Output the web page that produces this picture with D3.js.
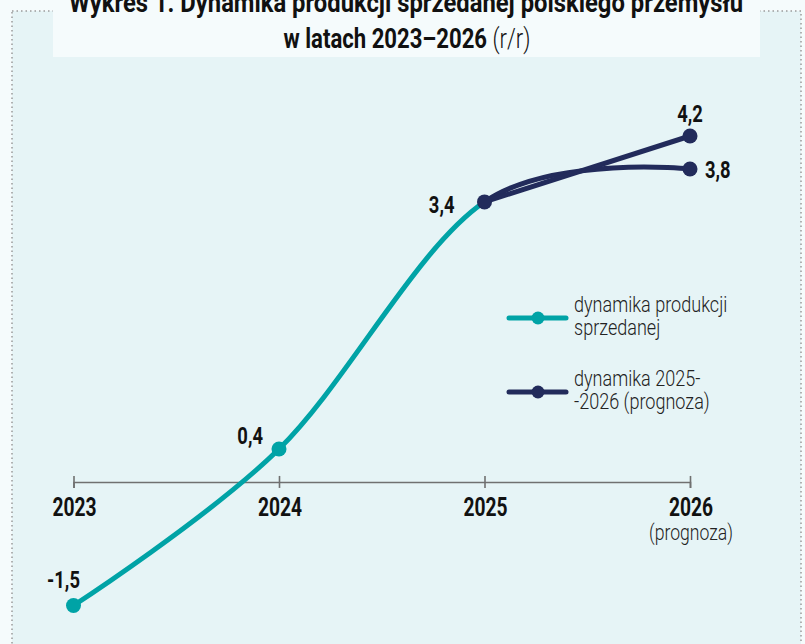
<!DOCTYPE html>
<html>
<head>
<meta charset="utf-8">
<script src="https://cdn.jsdelivr.net/npm/d3@7"></script>
<style>
  html, body { margin: 0; padding: 0; background: #f5fbfc; }
  svg { display: block; }
  text { font-family: Roboto, "Noto Sans", sans-serif; }
</style>
</head>
<body>
<div id="chart"></div>
<script>
// ---- data ----
const years = [2023, 2024, 2025, 2026];
const yearLabels = ["2023", "2024", "2025", "2026"];
const salesValues = [-1.5, 0.4, 3.4, 3.8];       // dynamika produkcji sprzedanej (smoothed series)
const forecastYears = [2025, 2026];
const forecastValues = [3.4, 4.2];               // dynamika 2025-2026 (prognoza), straight
const valueLabels = ["-1,5", "0,4", "3,4", "3,8"];
const forecastLabel = "4,2";
const titleLine1 = "Wykres 1. Dynamika produkcji sprzedanej polskiego przemysłu";
const titleLine2a = "w latach 2023–2026 ";
const titleLine2b = "(r/r)";
const legendItems = [
  ["dynamika produkcji", "sprzedanej"],
  ["dynamika 2025-", "-2026 (prognoza)"]
];
const subLabel2026 = "(prognoza)";

const W = 805, H = 644;
const teal = "#00a3a6", navy = "#222b5b";
const SX = 0.74; // horizontal condensing of the typeface

const svg = d3.select("#chart").append("svg").attr("width", W).attr("height", H);

function txt(str, xx, yy, o) {
  const g = svg.append("g").attr("transform", `translate(${xx},${yy}) scale(${o.sx || SX},1)`);
  const t = g.append("text").attr("x", 0).attr("y", 0)
    .attr("text-anchor", o.anchor || "start")
    .attr("font-size", o.size).attr("font-weight", o.weight || "normal")
    .attr("fill", o.fill || "#111");
  if (str !== null) t.text(str);
  return t;
}

// panel background + dotted border
svg.append("rect").attr("x", 12).attr("y", 11).attr("width", 789).attr("height", 650)
  .attr("fill", "#e6f4f6").attr("stroke", "#9a9a9a").attr("stroke-width", 1.5)
  .attr("stroke-dasharray", "1.5,3");
// title box
svg.append("rect").attr("x", 53).attr("y", 0).attr("width", 707).attr("height", 57).attr("fill", "#f5fbfc");

txt(titleLine1, 406, 12, {anchor: "middle", size: 28, weight: "bold", sx: 0.85});
const t2 = txt(null, 407, 48, {anchor: "middle", size: 28, sx: 0.79});
t2.append("tspan").attr("font-weight", "bold").text(titleLine2a);
t2.append("tspan").attr("font-weight", 300).attr("fill", "#111").text(titleLine2b);

// scales
const x = d3.scaleLinear().domain([2023, 2026]).range([73.5, 690]);
const y = d3.scaleLinear().domain([-1.5, 4.2]).range([605.5, 136]);

// axis at zero
const axis = d3.axisBottom(x).tickValues(years).tickSize(6).tickFormat("");
const axG = svg.append("g").attr("transform", `translate(0,${y(0)})`).call(axis);
axG.select(".domain").attr("stroke", "#707070").attr("stroke-width", 1.6);
axG.selectAll(".tick line").attr("stroke", "#707070").attr("stroke-width", 1.6).attr("y1", -6).attr("y2", 6);

years.forEach((d, i) => txt(yearLabels[i], x(d) + 1, y(0) + 34,
  {anchor: "middle", size: 26, weight: "bold"}));
txt(subLabel2026, x(2026) + 1, y(0) + 58, {anchor: "middle", size: 22, weight: 300, fill: "#222", sx: 0.8});

// clips
const defs = svg.append("defs");
defs.append("clipPath").attr("id", "cl").append("rect")
  .attr("x", 0).attr("y", 0).attr("width", x(2025)).attr("height", H);
defs.append("clipPath").attr("id", "cr").append("rect")
  .attr("x", x(2025)).attr("y", 0).attr("width", W - x(2025)).attr("height", H);

const salesPts = years.map((yr, i) => [yr, salesValues[i]]);
const smooth = d3.line().x(d => x(d[0])).y(d => y(d[1])).curve(d3.curveCardinal.tension(0));
const straight = d3.line().x(d => x(d[0])).y(d => y(d[1]));

svg.append("path").attr("d", smooth(salesPts)).attr("fill", "none")
  .attr("stroke", teal).attr("stroke-width", 5).attr("clip-path", "url(#cl)");
svg.append("path").attr("d", smooth(salesPts)).attr("fill", "none")
  .attr("stroke", navy).attr("stroke-width", 5).attr("clip-path", "url(#cr)");
const fcPts = forecastYears.map((yr, i) => [yr, forecastValues[i]]);
svg.append("path").attr("d", straight(fcPts)).attr("fill", "none")
  .attr("stroke", navy).attr("stroke-width", 5);

// dots
svg.selectAll("circle.s").data(salesPts).enter().append("circle")
  .attr("cx", d => x(d[0])).attr("cy", d => y(d[1])).attr("r", 7.5)
  .attr("fill", d => d[0] >= 2025 ? navy : teal);
svg.append("circle").attr("cx", x(fcPts[1][0])).attr("cy", y(fcPts[1][1])).attr("r", 7.5).attr("fill", navy);

// value labels
const lab = (s, xx, yy, anchor) => txt(s, xx, yy, {anchor, size: 23, weight: "bold", sx: 0.8});
lab(valueLabels[0], x(2023) - 10, y(-1.5) - 18, "middle");
lab(valueLabels[1], x(2024) - 16, y(0.4) - 5, "end");
lab(valueLabels[2], x(2025) - 30, y(3.4) + 11, "end");
lab(valueLabels[3], x(2026) + 15, y(3.8) + 9, "start");
lab(forecastLabel, x(2026), y(4.2) - 14, "middle");

// legend
const legY = [318, 392];
const legC = [teal, navy];
legendItems.forEach((lines, i) => {
  svg.append("line").attr("x1", 509).attr("x2", 566).attr("y1", legY[i]).attr("y2", legY[i])
    .attr("stroke", legC[i]).attr("stroke-width", 5).attr("stroke-linecap", "round");
  svg.append("circle").attr("cx", 538).attr("cy", legY[i]).attr("r", 6.5).attr("fill", legC[i]);
  lines.forEach((ln, j) => txt(ln, 574, legY[i] - 6 + j * 23, {size: 21.5, weight: 300, fill: "#222", sx: 0.84}));
});
</script>
</body>
</html>
